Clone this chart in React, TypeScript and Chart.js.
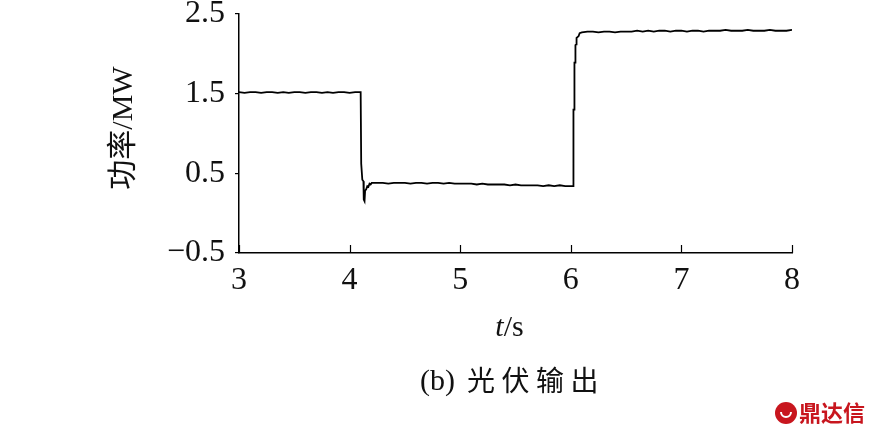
import { useEffect, useRef } from "react";
import { Chart, registerables } from "chart.js";

Chart.register(...registerables);

// ---- data ----
const timeS: number[] = [
  3.0, 3.05, 3.1, 3.15, 3.2, 3.25, 3.3, 3.35, 3.4, 3.45, 3.5, 3.55, 3.6, 3.65, 3.7, 3.75, 3.8, 3.85, 3.9, 3.95, 4.0, 4.05, 4.1,
  4.105, 4.112, 4.115, 4.125, 4.128, 4.135, 4.14, 4.15, 4.16, 4.17, 4.18, 4.19, 4.2,
  4.25, 4.3, 4.35, 4.4, 4.45, 4.5, 4.55, 4.6, 4.65, 4.7, 4.75, 4.8, 4.85, 4.9, 4.95, 5.0, 5.05, 5.1, 5.15, 5.2, 5.25, 5.3,
  5.35, 5.4, 5.45, 5.5, 5.55, 5.6, 5.65, 5.7, 5.75, 5.8, 5.85, 5.9, 5.95, 6.0,
  6.02, 6.024, 6.03, 6.033, 6.04, 6.042, 6.05, 6.052, 6.07, 6.08, 6.1, 6.15,
  6.2, 6.25, 6.3, 6.35, 6.4, 6.45, 6.5, 6.55, 6.6, 6.65, 6.7, 6.75, 6.8, 6.85, 6.9, 6.95, 7.0, 7.05, 7.1, 7.15, 7.2, 7.25,
  7.3, 7.35, 7.4, 7.45, 7.5, 7.55, 7.6, 7.65, 7.7, 7.75, 7.8, 7.85, 7.9, 7.95, 8.0,
];

const powerMW: number[] = [
  1.52, 1.51, 1.52, 1.52, 1.51, 1.52, 1.52, 1.51, 1.52, 1.51, 1.52, 1.52, 1.51, 1.52, 1.52, 1.51, 1.52, 1.51, 1.52, 1.52, 1.51, 1.52, 1.52,
  0.62, 0.62, 0.42, 0.4, 0.17, 0.15, 0.28, 0.3, 0.34, 0.33, 0.37, 0.36, 0.38,
  0.38, 0.38, 0.37, 0.38, 0.38, 0.38, 0.37, 0.38, 0.38, 0.37, 0.38, 0.38, 0.37, 0.38, 0.37, 0.37, 0.37, 0.37, 0.36, 0.37, 0.36, 0.36,
  0.36, 0.36, 0.35, 0.36, 0.35, 0.35, 0.35, 0.35, 0.34, 0.35, 0.34, 0.35, 0.34, 0.34,
  0.34, 1.3, 1.3, 1.89, 1.89, 2.11, 2.12, 2.2, 2.22, 2.26, 2.27, 2.28,
  2.28, 2.27, 2.28, 2.28, 2.27, 2.28, 2.28, 2.28, 2.29, 2.28, 2.29, 2.28, 2.29, 2.29, 2.28, 2.29, 2.29, 2.28, 2.29, 2.29, 2.28, 2.29,
  2.29, 2.29, 2.3, 2.29, 2.29, 2.29, 2.3, 2.29, 2.29, 2.29, 2.3, 2.29, 2.29, 2.29, 2.3,
];

const xTicks: number[] = [3, 4, 5, 6, 7, 8];
const yTicks: number[] = [-0.5, 0.5, 1.5, 2.5];

const yAxisTitle = "功率/MW";
const xAxisTitleItalic = "t";
const xAxisTitleRest = "/s";
const captionLatin = "(b)";
const captionChars = ["光", "伏", "输", "出"];
const watermarkText = "鼎达信";

const SERIF = "'Liberation Serif', 'Times New Roman', 'Noto Sans CJK SC', serif";

export default function App() {
  const canvasRef = useRef<HTMLCanvasElement | null>(null);

  useEffect(() => {
    const canvas = canvasRef.current;
    if (!canvas) return;

    const textPlugin = {
      id: "textPlugin",
      afterDraw(chart: any) {
        const ctx = chart.ctx as CanvasRenderingContext2D;
        const xs = chart.scales.x;
        const area = chart.chartArea;

        // inward x ticks
        ctx.save();
        ctx.strokeStyle = "#000";
        ctx.lineWidth = 1.2;
        for (const v of xTicks) {
          const px = Math.round(xs.getPixelForValue(v)) + 0.5;
          ctx.beginPath();
          ctx.moveTo(px, area.bottom);
          ctx.lineTo(px, area.bottom - 8);
          ctx.stroke();
        }
        ctx.restore();

        ctx.save();
        ctx.fillStyle = "#111";
        // y-axis title
        ctx.translate(124, 128);
        ctx.rotate(-Math.PI / 2);
        ctx.font = `30px ${SERIF}`;
        ctx.textAlign = "center";
        ctx.textBaseline = "middle";
        ctx.fillText(yAxisTitle, 0, 0);
        ctx.restore();

        // x-axis title
        ctx.save();
        ctx.fillStyle = "#111";
        ctx.textBaseline = "alphabetic";
        ctx.font = `italic 30px ${SERIF}`;
        const wT = ctx.measureText(xAxisTitleItalic).width;
        ctx.font = `30px ${SERIF}`;
        const wR = ctx.measureText(xAxisTitleRest).width;
        const cx = (area.left + area.right) / 2 - 6;
        const sx = cx - (wT + wR) / 2;
        ctx.font = `italic 30px ${SERIF}`;
        ctx.fillText(xAxisTitleItalic, sx, 336);
        ctx.font = `30px ${SERIF}`;
        ctx.fillText(xAxisTitleRest, sx + wT, 336);

        // caption
        ctx.font = `30px ${SERIF}`;
        ctx.fillText(captionLatin, 420, 390);
        ctx.font = `28px 'Noto Sans CJK SC', sans-serif`;
        captionChars.forEach((c, i) => {
          ctx.fillText(c, 467 + i * 34.5, 391);
        });
        ctx.restore();

        // watermark
        ctx.save();
        ctx.fillStyle = "#c8161e";
        ctx.beginPath();
        ctx.arc(786, 413, 11, 0, Math.PI * 2);
        ctx.fill();
        ctx.strokeStyle = "#fff";
        ctx.lineWidth = 2;
        ctx.beginPath();
        ctx.arc(786, 412, 5, 0, Math.PI);
        ctx.stroke();
        ctx.font = `bold 22px 'Noto Sans CJK SC', sans-serif`;
        ctx.textBaseline = "middle";
        ctx.fillText(watermarkText, 799, 413);
        ctx.restore();
      },
    };

    const chart = new Chart(canvas, {
      type: "line",
      data: {
        datasets: [
          {
            data: timeS.map((t, i) => ({ x: t, y: powerMW[i] })),
            borderColor: "#000",
            borderWidth: 1.8,
            pointRadius: 0,
            tension: 0,
            fill: false,
          },
        ],
      },
      options: {
        responsive: false,
        animation: false,
        devicePixelRatio: 1,
        layout: { padding: { left: 0, top: 14, right: 83, bottom: 0 } },
        plugins: { legend: { display: false }, tooltip: { enabled: false } },
        scales: {
          x: {
            type: "linear",
            min: 3,
            max: 8,
            afterBuildTicks: (s: any) => {
              s.ticks = xTicks.map((v) => ({ value: v }));
            },
            afterFit: (s: any) => {
              s.height = 185;
              s.paddingLeft = 0;
              s.paddingRight = 0;
            },
            grid: { display: false, drawTicks: false },
            border: { display: true, color: "#000", width: 1.5 },
            ticks: {
              color: "#111",
              padding: 8,
              maxRotation: 0,
              autoSkip: false,
              font: { family: SERIF, size: 32 },
              callback: (v: any) => String(v),
            },
          },
          y: {
            type: "linear",
            min: -0.5,
            max: 2.5,
            afterBuildTicks: (s: any) => {
              s.ticks = yTicks.map((v) => ({ value: v }));
            },
            afterFit: (s: any) => {
              s.width = 239;
              s.paddingTop = 0;
              s.paddingBottom = 0;
            },
            grid: {
              display: true,
              drawOnChartArea: false,
              drawTicks: true,
              tickLength: 4,
              color: "#000",
              lineWidth: 1.2,
            },
            border: { display: true, color: "#000", width: 1.5 },
            ticks: {
              color: "#111",
              padding: 10,
              autoSkip: false,
              font: { family: SERIF, size: 32 },
              callback: (v: any) => (Number(v) < 0 ? "\u2212" + String(Math.abs(Number(v))) : String(v)),
            },
          },
        },
      },
      plugins: [textPlugin],
    } as any);

    return () => chart.destroy();
  }, []);

  return (
    <div style={{ position: "fixed", left: 0, top: 0, width: 875, height: 438, background: "#fff" }}>
      <canvas ref={canvasRef} width={875} height={438} />
    </div>
  );
}
